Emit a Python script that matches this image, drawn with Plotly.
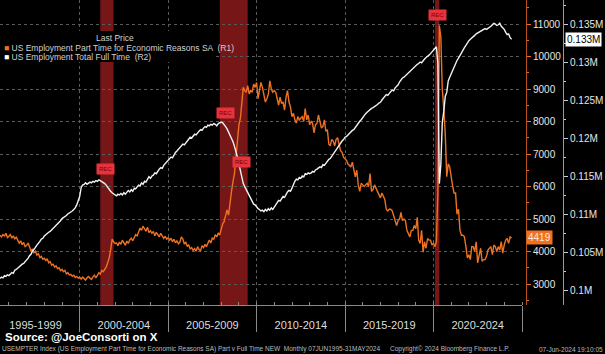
import plotly.graph_objects as go
import pandas as pd

# ---- data (monthly, Jun-1995 .. May-2024), thousands ----
part_time = [
    4500, 4450, 4520, 4480, 4560, 4430, 4470,                                  # 1995 Jun-Dec
    4520, 4410, 4480, 4390, 4440, 4350, 4260, 4330, 4210, 4280, 4150, 4190,    # 1996
    4260, 4150, 4020, 4080, 3960, 4010, 3890, 3930, 3810, 3850, 3760, 3790,    # 1997
    3720, 3780, 3650, 3690, 3580, 3610, 3520, 3560, 3470, 3500, 3410, 3450,    # 1998
    3380, 3420, 3310, 3350, 3280, 3300, 3240, 3270, 3200, 3230, 3180, 3210,    # 1999
    3150, 3210, 3170, 3120, 3190, 3230, 3180, 3140, 3220, 3270, 3190, 3260,    # 2000
    3350, 3300, 3420, 3380, 3450, 3520, 3650, 3800, 4050, 4380, 4300, 4250,    # 2001
    4260, 4180, 4290, 4220, 4350, 4280, 4190, 4320, 4250, 4360, 4410, 4330,    # 2002
    4450, 4520, 4480, 4610, 4720, 4650, 4780, 4700, 4620, 4750, 4580, 4640,    # 2003
    4560, 4620, 4480, 4590, 4510, 4450, 4560, 4490, 4400, 4470, 4380, 4420,    # 2004
    4350, 4410, 4300, 4380, 4270, 4330, 4240, 4290, 4450, 4380, 4230, 4280,    # 2005
    4150, 4210, 4080, 4120, 4030, 4090, 4010, 4150, 4060, 4020, 4180, 4120,    # 2006
    4220, 4150, 4280, 4350, 4260, 4410, 4380, 4520, 4450, 4560, 4510, 4680,    # 2007
    4850, 4920, 5150, 5280, 5120, 5550, 5850, 6150, 6400, 6900, 7300, 7900,    # 2008
    8100, 8700, 9050, 8950, 8900, 9100, 8850, 8950, 8900, 9150, 9050, 9200,    # 2009
    8700, 8950, 9200, 9050, 8750, 8600, 8700, 8850, 9250, 9000, 8900, 8950,    # 2010
    8900, 8650, 8500, 8750, 8550, 8600, 8350, 8750, 8950, 8600, 8450, 8150,    # 2011
    8250, 8050, 7950, 8150, 8050, 8100, 8150, 8000, 8400, 8050, 8200, 7900,    # 2012
    8000, 7950, 7650, 7900, 7950, 8200, 7950, 7800, 7850, 8050, 7700, 7750,    # 2013
    7300, 7250, 7450, 7400, 7250, 7450, 7500, 7300, 7100, 7050, 6900, 6850,    # 2014
    6800, 6700, 6650, 6600, 6750, 6500, 6300, 6500, 6050, 5850, 6100, 6050,    # 2015
    6000, 6050, 6100, 6000, 6400, 5850, 5900, 6050, 5950, 5850, 5700, 5650,    # 2016
    5800, 5700, 5600, 5300, 5250, 5300, 5300, 5250, 5100, 4950, 4800, 4950,    # 2017
    5000, 5200, 4950, 5000, 4950, 4650, 4550, 4450, 4650, 4650, 4800, 4700,    # 2018
    5050, 4350, 4250, 4650, 3980, 4300, 4100, 4400, 4350, 4350, 4200, 4250,    # 2019
    4150, 4300, 5800, 10950, 10600, 9000, 8400, 7600, 6300, 6700, 6600, 6200,  # 2020
    6000, 5800, 5800, 5150, 5300, 4650, 4500, 4500, 4450, 4150, 3800, 3900,    # 2021
    3750, 4150, 4150, 4000, 4300, 3650, 3850, 4100, 3700, 3750, 3750, 3850,    # 2022
    4050, 4100, 4150, 3900, 4200, 4150, 4000, 4150, 4050, 4300, 3950, 4200,    # 2023
    4350, 4400, 4250, 4450, 4419,                                              # 2024 Jan-May
]

full_time = [
    101500, 101700, 101600, 101900, 101800, 102000, 101900,
    102100, 102300, 102200, 102600, 102700, 102900, 103100, 103200, 103400, 103500, 103700, 103900,
    104200, 104500, 104700, 105100, 105300, 105600, 105900, 106100, 106400, 106700, 106800, 107100,
    107300, 107400, 107600, 107700, 107900, 108000, 108200, 108400, 108700, 108900, 109100, 109400,
    109500, 109700, 109800, 110000, 110100, 110300, 110400, 110600, 110800, 111200, 111700, 112300,
    113500, 113800, 113900, 114100, 113900, 114000, 114200, 114100, 114300, 114200, 114400, 114300,
    114500, 114400, 114300, 114200, 114000, 113800, 113500, 113200, 113000, 112800, 112600, 112500,
    112400, 112600, 112500, 112700, 112500, 112800, 112600, 112900, 113100, 112900, 113200, 113000,
    113400, 113300, 113600, 113800, 113700, 114100, 113900, 114300, 114200, 114600, 114900, 114700,
    115000, 115100, 115400, 115300, 115700, 115900, 116100, 116000, 116400, 116600, 116800, 117000,
    117200, 117500, 117400, 117800, 118100, 118300, 118500, 118700, 118900, 119200, 119100, 119400,
    119600, 119900, 120100, 120000, 120300, 120500, 120400, 120700, 120900, 121100, 121000, 121300,
    121500, 121400, 121700, 121600, 121800, 121700, 121900, 121800, 121600, 121900, 122000, 122100,
    122000, 121800, 121500, 121200, 120800, 120400, 120000, 119500, 118900, 118300, 117500, 116600,
    115700, 114800, 114000, 113600, 113200, 112700, 112400, 112000, 111600, 111300, 111200, 110900,
    110700, 110600, 110400, 110500, 110300, 110600, 110400, 110700, 110500, 110800, 110600, 110900,
    111200, 111500, 111800, 111700, 112100, 112300, 112200, 112600, 112900, 113100, 113000, 113400,
    114000, 114300, 114600, 114500, 114800, 114700, 115000, 114900, 115300, 115200, 115400, 115300,
    115400, 115600, 115500, 115800, 115900, 116000, 116200, 116100, 116500, 116400, 116700, 117000,
    117200, 117300, 117600, 117800, 118200, 118500, 118800, 119000, 119300, 119600, 119800, 120100,
    120200, 120400, 120600, 120800, 121000, 121100, 121400, 121600, 121900, 122200, 122400, 122700,
    122900, 123200, 123400, 123600, 123700, 123900, 124000, 124100, 124200, 124400, 124600, 124700,
    125000, 125200, 125500, 125700, 125600, 125900, 126100, 126300, 126200, 126600, 126800, 127000,
    127400, 127700, 127900, 128000, 128200, 128300, 128600, 128800, 128900, 129100, 129300, 129500,
    129700, 129800, 130000, 129900, 130200, 130400, 130600, 130700, 130900, 131100, 131300, 131500,
    131800, 132000, 129800, 114000, 116500, 122000, 123500, 125500, 126000, 127500, 128000, 128500,
    129000, 129300, 129800, 130200, 130500, 130900, 131300, 131600, 131900, 132200, 132600, 132800,
    133000, 133200, 133400, 133500, 133700, 133800, 134000, 134100, 134200, 134300, 134400, 134300,
    134400, 134600, 134700, 134900, 135100, 135000, 134800, 134900, 135100, 134700, 134500, 134300,
    133900, 133600, 133700, 133200, 133000,
]

dates = pd.date_range("1995-06-30", periods=len(part_time), freq="ME")

recessions = [("2001-03-01", "2001-11-30"), ("2007-12-01", "2009-06-30"), ("2020-02-01", "2020-04-30")]
rec_markers = [("2001-06-15", 6550), ("2008-04-01", 8260), ("2009-03-01", 6750), ("2020-03-25", 11280)]

period_mid = ["1997-07-01", "2002-07-01", "2007-07-01", "2012-07-01", "2017-07-01", "2022-07-01"]
period_labels = ["1995-1999", "2000-2004", "2005-2009", "2010-2014", "2015-2019", "2020-2024"]

r1_ticks = [3000, 4000, 5000, 6000, 7000, 8000, 9000, 10000, 11000]
r1_labels = [str(v) for v in r1_ticks]
r2_ticks = [100000, 105000, 110000, 115000, 120000, 125000, 130000, 135000]
r2_labels = ["0.1M", "0.105M", "0.11M", "0.115M", "0.12M", "0.125M", "0.13M", "0.135M"]

name_r1 = "US Employment Part Time for Economic Reasons SA  (R1)"
name_r2 = "US Employment Total Full Time  (R2)"

ORANGE = "#EE7222"
FONT = "Liberation Sans"
W, H = 605, 354
PLOT_BOTTOM = 305
X_END = 522
R1_POS = 526 / W
R2_POS = 563 / W


def py(px):
    """pixel row -> paper y"""
    return 1 - px / PLOT_BOTTOM


fig = go.Figure()
fig.add_trace(go.Scatter(x=dates, y=part_time, mode="lines", line=dict(color=ORANGE, width=1.4),
                         yaxis="y", showlegend=False, hoverinfo="skip"))
fig.add_trace(go.Scatter(x=dates, y=full_time, mode="lines", line=dict(color="#F2F2F2", width=1.4),
                         yaxis="y2", showlegend=False, hoverinfo="skip"))
# carrier for period label axis
fig.add_trace(go.Scatter(x=[dates[0]], y=[None], xaxis="x2", yaxis="y", showlegend=False, hoverinfo="skip"))

for a, b in recessions:
    fig.add_vrect(x0=a, x1=b, fillcolor="rgba(175,32,32,0.68)", line_width=0, layer="below")

for d, v in rec_markers:
    fig.add_annotation(x=d, y=v, xref="x", yref="y", text="REC", showarrow=False,
                       font=dict(size=6, color="#800000", family=FONT), bgcolor="#E8323C",
                       borderpad=2)

x_range = ["1995-06-30", "2025-01-01"]
r1_px = (11000 - 3000) / (284 - 24)
r2_px = (135000 - 100000) / (290 - 24)
r1_range = [3000 - (PLOT_BOTTOM - 284) * r1_px, 11000 + 24 * r1_px]
r2_range = [100000 - (PLOT_BOTTOM - 290) * r2_px, 135000 + 24 * r2_px]

fig.update_layout(
    width=W, height=H,
    margin=dict(l=0, r=0, t=0, b=H - PLOT_BOTTOM),
    paper_bgcolor="black", plot_bgcolor="black",
    font=dict(family=FONT, color="#DDDDDD"),
    showlegend=False,
    xaxis=dict(domain=[0, X_END / W], range=x_range, type="date",
               tick0="2000-01-01", dtick="M60", ticks="outside", ticklen=26, tickcolor="#8A8A8A",
               showticklabels=False, showline=True, linecolor="#8A8A8A", linewidth=1,
               showgrid=True, gridcolor="#5A5A5A", griddash="dot", gridwidth=1, zeroline=False,
               minor=dict(ticks="inside", ticklen=3, dtick="M12", tickcolor="#8A8A8A", showgrid=False)),
    xaxis2=dict(overlaying="x", anchor="y", side="bottom", range=x_range, type="date",
                tickmode="array", tickvals=period_mid, ticktext=period_labels,
                ticks="outside", ticklen=10, tickcolor="rgba(0,0,0,0)",
                tickfont=dict(size=11, color="#DDDDDD"), showgrid=False, showline=False, zeroline=False),
    yaxis=dict(anchor="free", position=R1_POS, side="right", range=r1_range,
               tickmode="array", tickvals=r1_ticks, ticktext=r1_labels, ticks="outside", ticklen=4,
               tickcolor=ORANGE,
               tickfont=dict(size=10, color="#E6E6E6"), showline=True, linecolor="#B8521A", linewidth=1,
               showgrid=True, gridcolor="#5A5A5A", griddash="dot", gridwidth=1, zeroline=False,
               minor=dict(ticks="outside", ticklen=2, dtick=500, tickcolor=ORANGE, showgrid=False)),
    yaxis2=dict(overlaying="y", anchor="free", position=R2_POS, side="right", range=r2_range,
                tickmode="array", tickvals=r2_ticks, ticktext=r2_labels, ticks="outside", ticklen=4,
                tickcolor="#CCCCCC", tickfont=dict(size=10, color="#E6E6E6"),
                showline=True, linecolor="#9A9A9A", linewidth=1, showgrid=False, zeroline=False,
                minor=dict(ticks="outside", ticklen=2, dtick=2500, tickcolor="#CCCCCC", showgrid=False)),
)

# legend panel (drawn as annotations on a black panel)
fig.add_shape(type="rect", xref="paper", yref="paper", x0=0, x1=216 / W, y0=py(62), y1=py(31),
              fillcolor="black", line_width=0, layer="above")
fig.add_annotation(x=115 / W, xref="paper", y=py(38), yref="paper", xanchor="center", yanchor="middle",
                   text="Last Price", showarrow=False, font=dict(size=8.5, color="#D0D0D0", family=FONT))
for row, (nm, col) in enumerate([(name_r1, ORANGE), (name_r2, "#FFFFFF")]):
    fig.add_annotation(x=2 / W, xref="paper", y=py(48 + 9 * row), yref="paper", xanchor="left",
                       yanchor="middle", showarrow=False,
                       text=f'<span style="color:{col}">■</span> {nm}',
                       font=dict(size=8.5, color="#D0D0D0", family=FONT))

# last-value tags
fig.add_annotation(x=R1_POS, xref="paper", y=part_time[-1], yref="y", xanchor="left",
                   text=f"{part_time[-1]}", showarrow=False, bgcolor=ORANGE,
                   font=dict(size=10, color="#FFE6D6", family=FONT), borderpad=1)
fig.add_annotation(x=R2_POS + 0.003, xref="paper", y=full_time[-1], yref="y2", xanchor="left",
                   text=f"{full_time[-1] / 1e6:.3f}M", showarrow=False, bgcolor="white",
                   font=dict(size=10, color="black", family=FONT), borderpad=1)

# footer
fig.add_annotation(x=0.005, xref="paper", y=py(337), yref="paper",
                   xanchor="left", yanchor="middle", showarrow=False,
                   text="<b>Source: @JoeConsorti on X</b>", font=dict(size=11.5, color="white", family=FONT))
foot_font = dict(size=6.5, color="#BBBBBB", family=FONT)
fig.add_annotation(x=0.0, xref="paper", y=py(349), yref="paper",
                   xanchor="left", yanchor="middle", showarrow=False,
                   text="USEMPTER Index (US Employment Part Time for Economic Reasons SA) Part v Full Time NEW  Monthly 07JUN1995-31MAY2024",
                   font=foot_font)
fig.add_annotation(x=388 / W, xref="paper", y=py(349), yref="paper",
                   xanchor="left", yanchor="middle", showarrow=False,
                   text="Copyright© 2024 Bloomberg Finance L.P.", font=foot_font)
fig.add_annotation(x=1.0, xref="paper", y=py(349), yref="paper",
                   xanchor="right", yanchor="middle", showarrow=False,
                   text="07-Jun-2024 19:10:05", font=foot_font)

fig.write_html("out.html")
